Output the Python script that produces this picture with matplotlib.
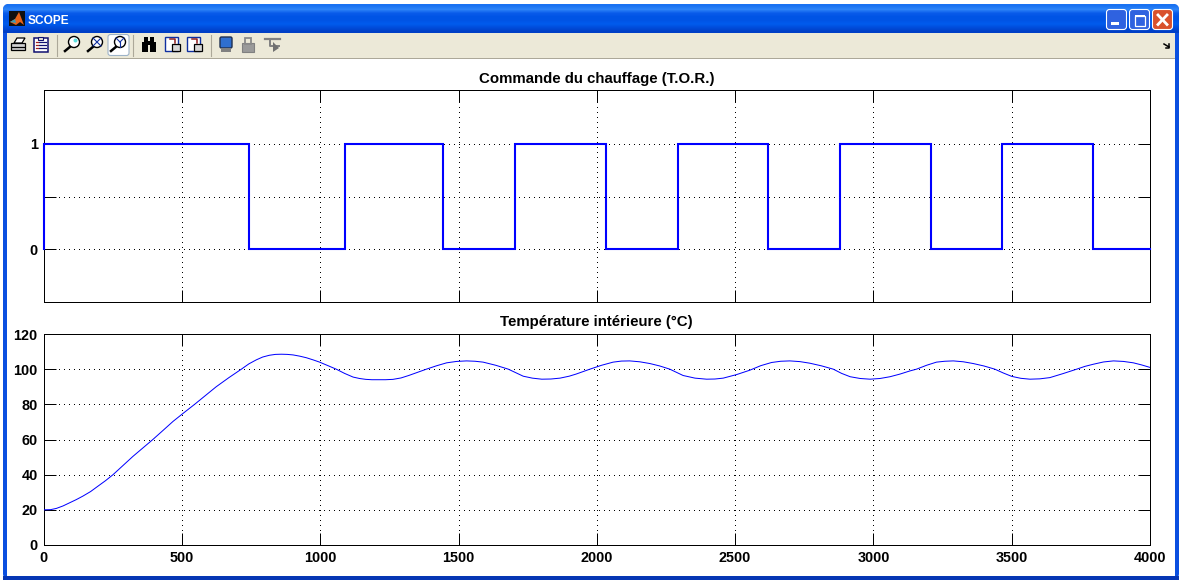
import numpy as np
import matplotlib
matplotlib.use("Agg")
import matplotlib.pyplot as plt
from matplotlib.patches import Rectangle, FancyBboxPatch, Circle, Polygon

plt.rcParams['font.family'] = ['Liberation Sans', 'DejaVu Sans']

# ---------- data ----------
window_title = "SCOPE"
title_top = "Commande du chauffage (T.O.R.)"
title_bottom = "Température intérieure (°C)"

command_t = [0, 0, 741, 1089, 1443, 1703, 2032, 2293, 2618, 2879, 3208, 3465, 3794, 4000]
command_v = [0, 1, 0, 1, 0, 1, 0, 1, 0, 1, 0, 1, 0, 0]

temp_t = [0, 25, 46, 70, 94, 118, 142, 170, 196, 224, 251, 287, 323, 359, 395, 432, 468, 507, 546, 585,
          624, 670, 715, 742, 769, 792, 816, 838, 860, 881, 902, 926, 950, 974, 998, 1028, 1058, 1088,
          1119, 1142, 1165, 1187, 1209, 1236, 1263, 1292, 1320, 1352, 1384, 1420, 1457, 1493, 1529, 1560,
          1589, 1635, 1680, 1707, 1734, 1767, 1801, 1834, 1867, 1900, 1925, 1950, 1975, 2017, 2059, 2089,
          2119, 2155, 2192, 2228, 2264, 2288, 2312, 2355, 2397, 2427, 2457, 2505, 2553, 2593, 2632, 2665,
          2698, 2734, 2770, 2812, 2855, 2885, 2916, 2952, 2988, 3024, 3060, 3096, 3132, 3156, 3192, 3228,
          3258, 3289, 3325, 3361, 3400, 3439, 3470, 3500, 3533, 3566, 3602, 3638, 3686, 3735, 3765, 3795,
          3832, 3868, 3904, 3940, 3970, 4000]
temp_v = [20, 20.1, 20.8, 22.2, 24, 25.8, 27.8, 30.4, 33.4, 36.6, 40, 45.2, 50.4, 55.2, 60, 65.2, 70.3, 75.2, 80, 85,
          90, 95.2, 100, 103, 105.3, 106.9, 107.9, 108.4, 108.5, 108.4, 108.1, 107.4, 106.5, 105.3, 104, 102, 100, 97.6,
          95.5, 94.7, 94.2, 94, 94, 94, 94.2, 95, 96.4, 98.2, 100, 101.9, 103.6, 104.4, 104.7, 104.5,
          104, 102.2, 100, 98, 96, 94.9, 94.3, 94.4, 94.9, 96, 97.2, 98.6, 100, 102.2, 104, 104.6,
          104.7, 104.2, 103.2, 101.8, 100, 98.2, 96.4, 94.9, 94.3, 94.4, 94.9, 96.9, 99.4, 102, 103.8, 104.5,
          104.7, 104.3, 103.4, 101.9, 100, 97.6, 95.7, 94.7, 94.3, 94.7, 95.7, 97.2, 99, 100, 102.2, 104,
          104.5, 104.7, 104.2, 103.2, 101.8, 100, 97.8, 95.9, 94.8, 94.3, 94.5, 95.2, 97.5, 100, 101.6, 102.8,
          104.1, 104.7, 104.4, 103.6, 102.4, 101]

x_ticks = [0, 500, 1000, 1500, 2000, 2500, 3000, 3500, 4000]
top_y_ticks = [0, 0.5, 1]
top_y_labels = ['0', '', '1']
bottom_y_ticks = [0, 20, 40, 60, 80, 100, 120]

# ---------- figure and window chrome ----------
W, H = 1182, 583
fig = plt.figure(figsize=(W / 100, H / 100), dpi=100, facecolor='white')
chrome = fig.add_axes([0, 0, 1, 1], zorder=0)
chrome.set_xlim(0, W)
chrome.set_ylim(H, 0)
chrome.axis('off')

BLUE = '#0a4fe0'
chrome.add_patch(FancyBboxPatch((3, 4), 1176, 575.5, boxstyle="round,pad=0,rounding_size=6",
                                fc=BLUE, ec='none'))
grad = np.array([[0.10, 0.45, 0.95], [0.18, 0.52, 0.97], [0.04, 0.36, 0.92], [0.0, 0.33, 0.90],
                 [0.0, 0.33, 0.90], [0.0, 0.36, 0.93], [0.0, 0.30, 0.86], [0.0, 0.25, 0.78]])[:, None, :]
im = chrome.imshow(grad, extent=(3, 1179, 33, 4), aspect='auto', interpolation='bilinear', zorder=1)
im.set_clip_path(FancyBboxPatch((3, 4), 1176, 60, boxstyle="round,pad=0,rounding_size=6",
                                transform=chrome.transData))
chrome.set_xlim(0, W)
chrome.set_ylim(H, 0)
chrome.add_patch(Rectangle((7, 33), 1168, 25, fc='#ece9d8', ec='none', zorder=2))
chrome.add_patch(Rectangle((7, 58), 1168, 1, fc='#aca899', ec='none', zorder=2))
chrome.add_patch(Rectangle((7, 59), 1168, 517, fc='white', ec='none', zorder=2))
chrome.add_patch(Rectangle((3, 576), 1176, 3.5, fc='#0636b4', ec='none', zorder=2))
chrome.text(28, 21, window_title, color='white', fontsize=8.6, fontweight='bold',
            va='center', ha='left', zorder=3)

# application logo
chrome.add_patch(Rectangle((9, 11), 16, 15, fc='#101010', ec='none', zorder=3))
chrome.add_patch(Polygon([(10, 22), (15, 19), (19, 12), (24, 25), (20, 22), (16, 25)],
                         fc='#e8641a', ec='none', zorder=4))
chrome.add_patch(Polygon([(10, 22), (15, 19), (16, 23)], fc='#3a9ab0', ec='none', zorder=5))

# window buttons
for x0, fc in [(1106.5, '#2f62e0'), (1129.5, '#2f62e0'), (1152.5, '#d9512c')]:
    chrome.add_patch(FancyBboxPatch((x0, 9.5), 20, 20, boxstyle="round,pad=0,rounding_size=3",
                                    fc=fc, ec='white', lw=0.8, zorder=3))
chrome.add_patch(Rectangle((1111, 22), 7.5, 3, fc='white', ec='none', zorder=4))
chrome.add_patch(Rectangle((1134.5, 15.5), 10, 10, fc='none', ec='white', lw=0.9, zorder=4))
chrome.add_patch(Rectangle((1134.5, 15), 10, 2.4, fc='white', ec='none', zorder=4))
chrome.plot([1158, 1167], [15, 24.5], color='white', lw=2, zorder=4)
chrome.plot([1167, 1158], [15, 24.5], color='white', lw=2, zorder=4)

# toolbar separators and selected button
for xs in [57, 133, 211]:
    chrome.plot([xs, xs], [35, 56], color='#aca899', lw=0.8, zorder=3)
chrome.add_patch(FancyBboxPatch((108, 34.5), 21, 21, boxstyle="round,pad=0,rounding_size=2.5",
                                fc='white', ec='#9db3c8', lw=0.8, zorder=3))

# printer
chrome.add_patch(Rectangle((11, 43), 14, 7, fc='#d0d0d0', ec='black', lw=0.9, zorder=4))
chrome.add_patch(Polygon([(14, 43), (17, 38), (25, 38), (22, 43)], fc='white', ec='black', lw=0.9, zorder=4))
chrome.plot([12, 24], [47, 47], color='black', lw=0.9, zorder=5)
# property page
chrome.add_patch(Rectangle((34, 38), 14, 14, fc='white', ec='#101070', lw=1.1, zorder=4))
chrome.add_patch(Rectangle((38, 36.5), 5, 3, fc='#ece9d8', ec='#101070', lw=0.8, zorder=5))
for yy in [42, 45, 48]:
    chrome.plot([39, 46], [yy, yy], color='#101070', lw=0.9, zorder=5)
    chrome.plot([36, 37.5], [yy, yy], color='#a02020', lw=0.9, zorder=5)
# magnifiers
for cx, mark in [(74, None), (97, 'x'), (120, 'y')]:
    chrome.plot([cx - 9, cx - 3], [51, 46], color='black', lw=1.8, zorder=5)
    chrome.add_patch(Circle((cx, 42), 5.5, fc='white', ec='black', lw=1, zorder=5))
    if mark == 'x':
        chrome.plot([cx - 4, cx + 4], [38, 46], color='#1030a0', lw=0.8, zorder=6)
        chrome.plot([cx - 4, cx + 4], [46, 38], color='#1030a0', lw=0.8, zorder=6)
    elif mark == 'y':
        chrome.plot([cx, cx], [42, 47], color='#1030a0', lw=0.8, zorder=6)
        chrome.plot([cx - 4, cx], [38, 42], color='#1030a0', lw=0.8, zorder=6)
        chrome.plot([cx + 4, cx], [38, 42], color='#1030a0', lw=0.8, zorder=6)
    else:
        chrome.add_patch(Circle((cx + 1.5, 40.5), 2, fc='#60e0e0', ec='none', zorder=6))
# binoculars
chrome.add_patch(Rectangle((142, 42), 6, 10, fc='black', ec='none', zorder=4))
chrome.add_patch(Rectangle((150, 42), 6, 10, fc='black', ec='none', zorder=4))
chrome.add_patch(Rectangle((144, 37), 4, 6, fc='black', ec='none', zorder=4))
chrome.add_patch(Rectangle((150, 37), 4, 6, fc='black', ec='none', zorder=4))
chrome.add_patch(Rectangle((147, 41), 4, 4, fc='black', ec='none', zorder=4))
# save / restore axes
for x0 in [165, 187]:
    chrome.add_patch(Rectangle((x0, 37), 13, 14, fc='white', ec='#1030a0', lw=1, zorder=4))
    chrome.add_patch(Rectangle((x0 + 7, 44), 8, 7, fc='#d8d8d8', ec='black', lw=0.9, zorder=5))
    chrome.plot([x0 + 5, x0 + 10, x0 + 10], [39, 39, 43], color='#902020', lw=1.1, zorder=5)
# scope icons
chrome.add_patch(FancyBboxPatch((220, 37), 12, 11, boxstyle="round,pad=0,rounding_size=1.5",
                                fc='#2f6fd0', ec='#203050', lw=1, zorder=4))
chrome.add_patch(Rectangle((221, 48), 10, 3.5, fc='#808080', ec='none', zorder=4))
chrome.add_patch(Rectangle((242, 43), 12, 9, fc='#9a9a9a', ec='#808080', lw=0.8, zorder=4))
chrome.add_patch(Rectangle((245, 37.5), 6, 6, fc='none', ec='#8a8a8a', lw=1.3, zorder=4))
chrome.plot([265, 280], [39, 39], color='#808080', lw=1.6, zorder=4)
chrome.plot([270, 270, 279], [39, 46, 46], color='#808080', lw=1.4, zorder=4)
chrome.add_patch(Polygon([(273, 42), (273, 52), (279, 48)], fc='#707070', ec='none', zorder=5))
# toolbar chevron
chrome.plot([1164, 1169], [44, 47], color='black', lw=1.1, zorder=4)
chrome.plot([1169, 1169, 1166], [44, 47.5, 47.5], color='black', lw=1.1, zorder=4)


# ---------- plots ----------
def make_axes(top, bottom):
    ax = fig.add_axes([43.6 / W, 1 - bottom / H, (1150 - 43.6) / W, (bottom - top) / H], zorder=2)
    ax.set_xlim(x_ticks[0], x_ticks[-1])
    ax.set_xticks(x_ticks)
    ax.grid(True, color='black', lw=0.72, linestyle=(0, (1, 4.2)), antialiased=False)
    ax.set_axisbelow(True)
    ax.tick_params(direction='in', length=8.4, width=0.72, top=True, right=True,
                   labelsize=10.4, pad=4.3, color='black')
    for sp in ax.spines.values():
        sp.set_linewidth(0.72)
    return ax


ax1 = make_axes(90, 302)
ax1.set_ylim(-0.5, 1.51)
ax1.set_yticks(top_y_ticks)
ax1.set_yticklabels(top_y_labels, fontweight='bold')
ax1.tick_params(labelbottom=False)
ax1.step(command_t, command_v, where='post', color='#0000ff', lw=1.5,
         solid_joinstyle='miter', clip_on=False, zorder=3)
ax1.set_title(title_top, fontsize=10.8, fontweight='bold', pad=5.3)

ax2 = make_axes(334, 545)
ax2.set_ylim(bottom_y_ticks[0], bottom_y_ticks[-1])
ax2.set_yticks(bottom_y_ticks)
ax2.set_xticklabels([str(t) for t in x_ticks], fontweight='bold')
ax2.set_yticklabels([str(v) for v in bottom_y_ticks], fontweight='bold')
ax2.plot(temp_t, temp_v, color='#0000ff', lw=0.72, zorder=3)
ax2.set_title(title_bottom, fontsize=10.8, fontweight='bold', pad=6)

fig.savefig('out.png', dpi=100, facecolor='white')
